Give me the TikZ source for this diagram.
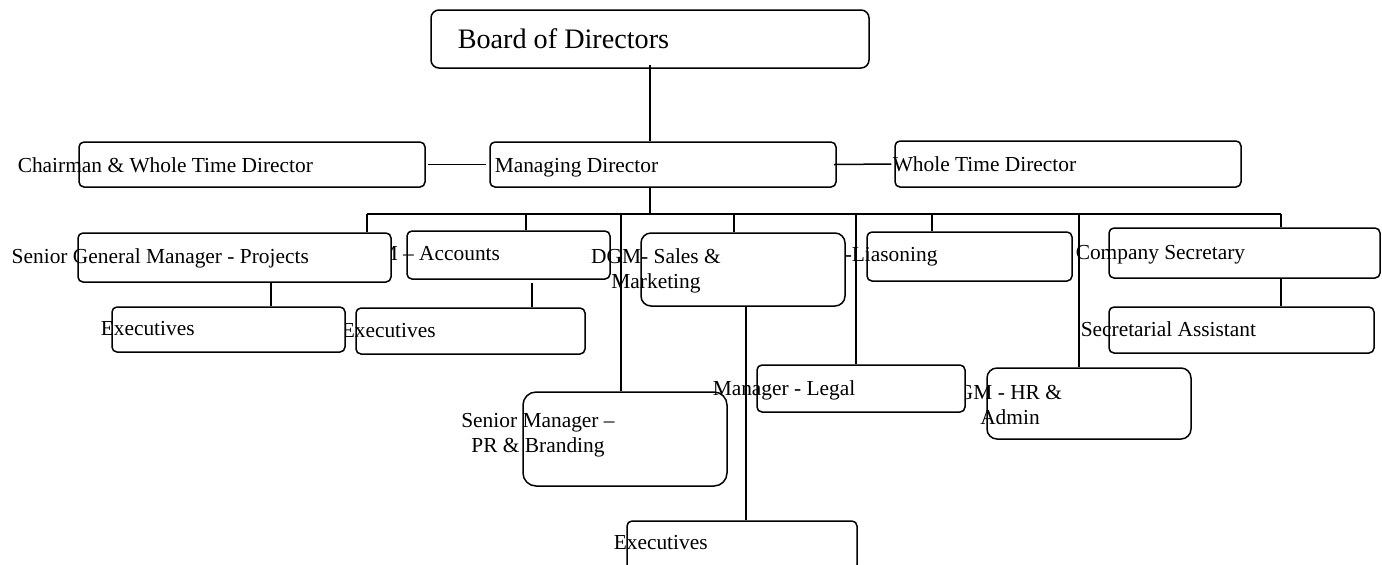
\documentclass[tikz,border=0pt]{standalone}
\usepackage{fontspec}
\setmainfont{Liberation Serif}
\begin{document}
\begin{tikzpicture}[x=0.5pt, y=-0.5pt, line width=0.75pt,
    box/.style={draw, fill=white, rounded corners=2.5pt, inner sep=0pt},
    lbl/.style={inner sep=0pt, anchor=base west, font=\fontsize{10.7}{12.5}\selectfont},
    lblc/.style={inner sep=0pt, anchor=base, align=center, font=\fontsize{10.7}{12.5}\selectfont}]
    \useasboundingbox (0,0) rectangle (1382,564);

    \node[box, rounded corners=4pt, minimum width=219pt, minimum height=29pt] (board) at (650,39) {};
    \node[lbl, font=\fontsize{14.1}{17}\selectfont] (board-t) at (457,48) {Board of Directors};

    \node[box, minimum width=173pt, minimum height=22.5pt] (chair) at (252,164.5) {};
    \node[lbl] (chair-t) at (17,172) {Chairman \& Whole Time Director};
    \node[box, minimum width=173pt, minimum height=22.5pt] (md) at (663,164.5) {};
    \node[lbl] (md-t) at (494,172) {Managing Director};
    \node[box, minimum width=173pt, minimum height=23pt] (wtd) at (1068,164) {};
    \node[lbl] (wtd-t) at (892,171) {Whole Time Director};

    \node[box, minimum width=101.5pt, minimum height=24pt] (acc) at (508.5,255) {};
    \node[lbl] (acc-t) at (378,260) {M -- Accounts};
    \node[box, minimum width=156.5pt, minimum height=24.5pt] (sgm) at (234.5,257.5) {};
    \node[lbl] (sgm-t) at (11,263) {Senior General Manager - Projects};

    \node[box, minimum width=114.5pt, minimum height=23pt] (exec2) at (470.5,331) {};
    \node[lbl] (exec2-t) at (341,337) {Executives};
    \node[box, minimum width=116.5pt, minimum height=22.5pt] (exec1) at (228.5,329.5) {};
    \node[lbl] (exec1-t) at (100,335) {Executives};

    \node[box, minimum width=102.5pt, minimum height=24.5pt] (lias) at (969.5,256.5) {};
    \node[lbl] (lias-t) at (844,261) {-Liasoning};
    \node[box, rounded corners=5pt, minimum width=102pt, minimum height=36.5pt] (sales) at (743,269.5) {};
    \node[lblc] (sales-t) at (656,288) {DGM- Sales \&\\Marketing};

    \node[box, minimum width=135.5pt, minimum height=25pt] (cs) at (1244.5,253) {};
    \node[lbl] (cs-t) at (1075,259) {Company Secretary};
    \node[box, minimum width=132.5pt, minimum height=23pt] (sa) at (1241.5,330) {};
    \node[lbl] (sa-t) at (1080,336) {Secretarial Assistant};

    \node[box, rounded corners=5pt, minimum width=102pt, minimum height=35.5pt] (hr) at (1089,403.5) {};
    \node[lblc] (hr-t) at (1010,424) {GM - HR \&\\Admin};
    \node[box, rounded corners=6.5pt, minimum width=102pt, minimum height=47pt] (pr) at (625,439) {};
    \node[lblc] (pr-t) at (538,452) {Senior Manager --\\PR \& Branding};
    \node[box, minimum width=104pt, minimum height=23.5pt] (legal) at (861,388.5) {};
    \node[lbl] (legal-t) at (712,395) {Manager - Legal};

    \node[box, minimum width=115pt, minimum height=24.5pt] (exec3) at (742,545.5) {};
    \node[lbl] (exec3-t) at (613,549) {Executives};

    \coordinate (busL) at (367,214);
    \coordinate (busR) at (1281,214);

    \draw (board.south |- 0,65) -- (board.south |- md.north);
    \draw ([xshift=1pt]chair.east) -- ([xshift=-1.5pt]md.west);
    \draw ([xshift=-1.5pt]md.east) -- ([xshift=-1.5pt]wtd.west);
    \draw (board.south |- md.south) -- (board.south |- busL);
    \draw (busL) -- (busR);
    \foreach \x/\n in {367/sgm, 526/acc, 621/pr, 734/sales, 856/legal, 932/lias, 1079/hr, 1281/cs}
        \draw (\x,214) -- (\x,0 |- \n.north);
    \draw (271,0 |- sgm.south) -- (271,0 |- exec1.north);
    \draw (532,0 |- acc.south) ++(0,3) -- (532,0 |- exec2.north);
    \draw (746,0 |- sales.south) -- (746,0 |- exec3.north);
    \draw (busR |- cs.south) -- (busR |- sa.north);
\end{tikzpicture}
\end{document}
